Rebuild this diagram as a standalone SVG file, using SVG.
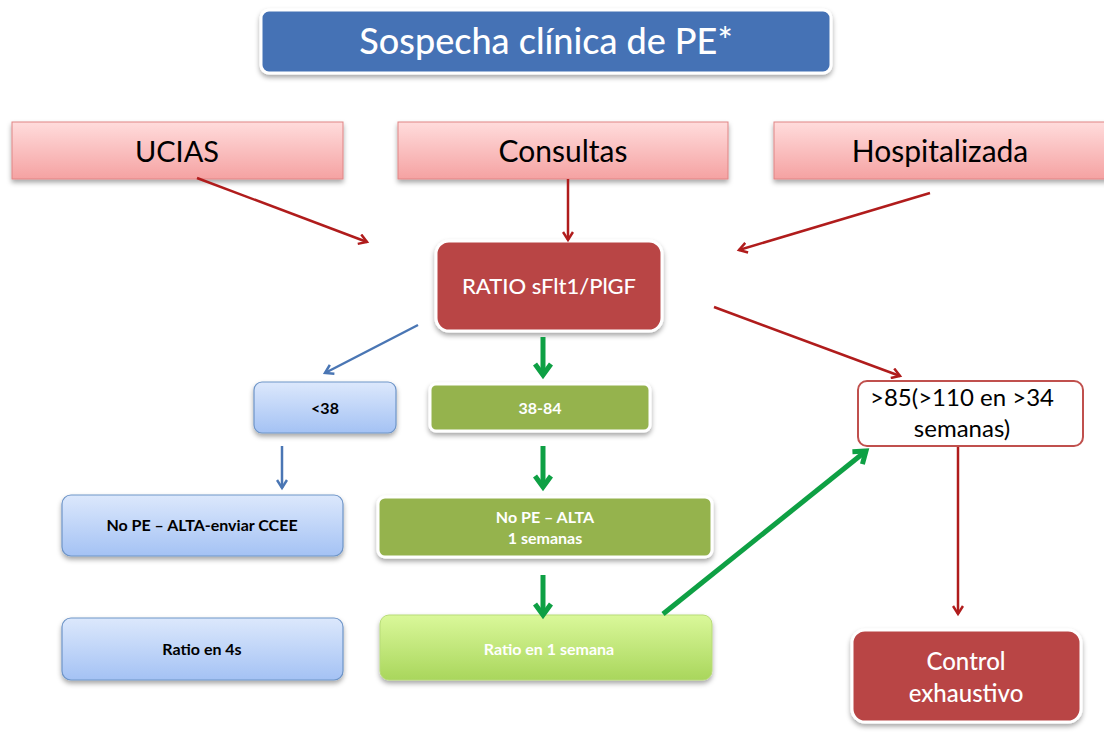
<svg xmlns="http://www.w3.org/2000/svg" width="1104" height="733" viewBox="0 0 1104 733">
<style>
.t{font-family:Lato,"Open Sans","Liberation Sans",sans-serif;text-anchor:middle}
.s{font-size:16px;font-weight:bold}
.wt{fill:#fff}
.bk{fill:#000}
.red{stroke:#B01C1C;stroke-width:2.5;fill:none}
.blu{stroke:#4A76B4;stroke-width:2.5;fill:none}
.grn{stroke:#0EA044;stroke-width:5;fill:none}
</style>
<defs>
<filter id="sh" x="-10%" y="-20%" width="120%" height="150%">
<feDropShadow dx="0" dy="3" stdDeviation="2.5" flood-color="#000" flood-opacity="0.35"/>
</filter>
<linearGradient id="pink" x1="0" y1="0" x2="0" y2="1"><stop offset="0" stop-color="#FFDCDC"/><stop offset="1" stop-color="#F5A2A2"/></linearGradient>
<linearGradient id="lblue" x1="0" y1="0" x2="0" y2="1"><stop offset="0" stop-color="#DCE8FC"/><stop offset="1" stop-color="#A4C2F4"/></linearGradient>
<linearGradient id="lgrn" x1="0" y1="0" x2="0" y2="1"><stop offset="0" stop-color="#DAF89A"/><stop offset="1" stop-color="#A9D65C"/></linearGradient>
<marker id="ar" markerWidth="12" markerHeight="12" refX="9" refY="6" orient="auto" markerUnits="userSpaceOnUse"><path d="M1,1 L9,6 L1,11" fill="none" stroke="#B01C1C" stroke-width="2.5"/></marker>
<marker id="ab" markerWidth="12" markerHeight="12" refX="9" refY="6" orient="auto" markerUnits="userSpaceOnUse"><path d="M1,1 L9,6 L1,11" fill="none" stroke="#4A76B4" stroke-width="2.5"/></marker>
<marker id="ag" markerWidth="18" markerHeight="20" refX="13" refY="10" orient="auto" markerUnits="userSpaceOnUse"><path d="M2,2 L13,10 L2,18" fill="none" stroke="#0EA044" stroke-width="5"/></marker>
</defs>
<rect width="1104" height="733" fill="#fff"/>

<g id="title">
<rect x="261" y="10" width="570" height="63" rx="8" fill="#4472B5" stroke="#fff" stroke-width="3" filter="url(#sh)"/>
<text class="t wt" x="546" y="54" font-size="36" font-weight="500">Sospecha clínica de PE*</text>
</g>

<g id="ucias">
<rect x="12" y="122" width="331" height="57" fill="url(#pink)" stroke="#E08585" stroke-width="1" filter="url(#sh)"/>
<text class="t bk" x="177" y="162" font-size="29">UCIAS</text>
</g>
<g id="consultas">
<rect x="398" y="122" width="330" height="57" fill="url(#pink)" stroke="#E08585" stroke-width="1" filter="url(#sh)"/>
<text class="t bk" x="563" y="162" font-size="30">Consultas</text>
</g>
<g id="hospitalizada">
<rect x="774" y="122" width="335" height="57" fill="url(#pink)" stroke="#E08585" stroke-width="1" filter="url(#sh)"/>
<text class="t bk" x="940" y="162" font-size="30">Hospitalizada</text>
</g>

<g id="ratio">
<rect x="436" y="241" width="226" height="90" rx="13" fill="#B94545" stroke="#fff" stroke-width="3" filter="url(#sh)"/>
<text class="t wt" x="549" y="294" font-size="22" font-weight="500">RATIO sFlt1/PlGF</text>
</g>

<g id="lt38">
<rect x="254" y="382" width="142" height="51" rx="8" fill="url(#lblue)" stroke="#6E95C8" stroke-width="1.2" filter="url(#sh)"/>
<text class="t bk s" x="325" y="414">&lt;38</text>
</g>
<g id="r3884">
<rect x="430" y="384" width="220" height="47" rx="6" fill="#95B34E" stroke="#fff" stroke-width="3" filter="url(#sh)"/>
<text class="t wt s" x="540" y="414">38-84</text>
</g>
<g id="gt85">
<rect x="858" y="381" width="225" height="65" rx="9" fill="#fff" stroke="#C0504D" stroke-width="2"/>
<text class="t bk" x="962" y="406" font-size="24">&gt;85(&gt;110 en &gt;34</text>
<text class="t bk" x="962" y="437" font-size="24">semanas)</text>
</g>

<g id="nope1">
<rect x="62" y="495" width="281" height="61" rx="9" fill="url(#lblue)" stroke="#6E95C8" stroke-width="1.2" filter="url(#sh)"/>
<text class="t bk s" x="202" y="531">No PE – ALTA-enviar CCEE</text>
</g>
<g id="nope2">
<rect x="378" y="497" width="334" height="60" rx="7" fill="#95B34E" stroke="#fff" stroke-width="3" filter="url(#sh)"/>
<text class="t wt s" x="545" y="523">No PE – ALTA</text>
<text class="t wt s" x="545" y="544">1 semanas</text>
</g>

<g id="ratio4s">
<rect x="62" y="618" width="281" height="62" rx="9" fill="url(#lblue)" stroke="#6E95C8" stroke-width="1.2" filter="url(#sh)"/>
<text class="t bk s" x="202" y="655">Ratio en 4s</text>
</g>
<g id="ratio1s">
<rect x="380" y="615" width="332" height="65" rx="9" fill="url(#lgrn)" stroke="#B7DB78" stroke-width="1" filter="url(#sh)"/>
<text class="t wt s" x="549" y="655">Ratio en 1 semana</text>
</g>
<g id="control">
<rect x="852" y="630" width="229" height="92" rx="13" fill="#B94545" stroke="#fff" stroke-width="3" filter="url(#sh)"/>
<text class="t wt" x="966" y="670" font-size="24" font-weight="500">Control</text>
<text class="t wt" x="966" y="702" font-size="24" font-weight="500">exhaustivo</text>
</g>

<g id="connectors">
<line class="red" x1="197" y1="178" x2="367" y2="242" marker-end="url(#ar)"/>
<line class="red" x1="568" y1="179" x2="568" y2="240" stroke-width="2" marker-end="url(#ar)"/>
<line class="red" x1="930" y1="193" x2="739" y2="250" marker-end="url(#ar)"/>
<line class="red" x1="714" y1="307" x2="900" y2="376" marker-end="url(#ar)"/>
<line class="blu" x1="418" y1="325" x2="325" y2="373" marker-end="url(#ab)"/>
<line class="blu" x1="282" y1="446" x2="282" y2="488" marker-end="url(#ab)"/>
<line class="grn" x1="543" y1="337" x2="543" y2="375" marker-end="url(#ag)"/>
<line class="grn" x1="543" y1="446" x2="543" y2="487" marker-end="url(#ag)"/>
<line class="grn" x1="543" y1="575" x2="543" y2="615" marker-end="url(#ag)"/>
<line class="grn" x1="663" y1="614" x2="866" y2="451" marker-end="url(#ag)"/>
<line class="red" x1="958" y1="447" x2="958" y2="614" marker-end="url(#ar)"/>
</g>
</svg>
